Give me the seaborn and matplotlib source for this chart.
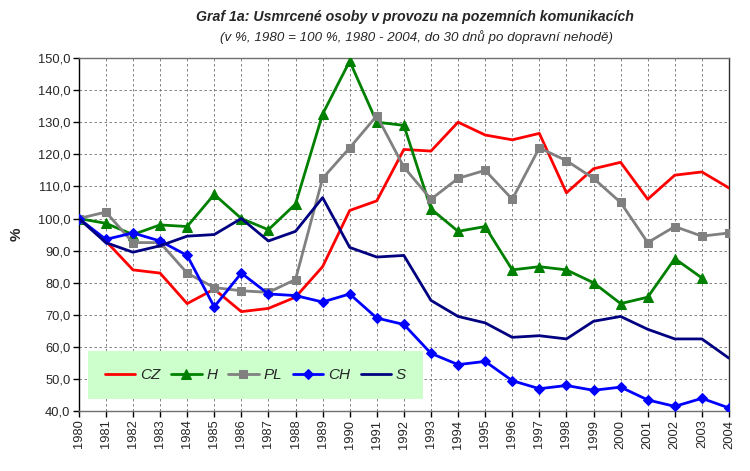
import numpy as np
import pandas as pd
import matplotlib
matplotlib.use("Agg")
import matplotlib.pyplot as plt
import seaborn as sns

years = list(range(1980, 2005))
cz = [100, 93, 84, 83, 73.5, 78, 71, 72, 75.5, 85, 102.5, 105.5, 121.5, 121, 130, 126, 124.5, 126.5, 108, 115.5, 117.5, 106, 113.5, 114.5, 109.5]
h = [100, 98.5, 95, 98, 97.5, 107.5, 100, 96.5, 104.5, 132.5, 149, 130, 129, 103, 96, 97.5, 84, 85, 84, 80, 73.5, 75.5, 87.5, 81.5, np.nan]
pl = [100, 102, 92.5, 92.5, 83, 78.5, 77.5, 77, 81, 112.5, 122, 132, 116, 106, 112.5, 115, 106, 122, 118, 112.5, 105, 92.5, 97.5, 94.5, 95.5]
ch = [100, 93.5, 95.5, 93, 88.5, 72.5, 83, 76.5, 76, 74, 76.5, 69, 67, 58, 54.5, 55.5, 49.5, 47, 48, 46.5, 47.5, 43.5, 41.5, 44, 41]
s = [100, 92.5, 89.5, 91.5, 94.5, 95, 100, 93, 96, 106.5, 91, 88, 88.5, 74.5, 69.5, 67.5, 63, 63.5, 62.5, 68, 69.5, 65.5, 62.5, 62.5, 56.5]

series_names = ["CZ", "H", "PL", "CH", "S"]
series_vals = [cz, h, pl, ch, s]

sns.set_theme(style="white")
plt.rcParams['font.family'] = ['Liberation Sans', 'DejaVu Sans']

fig = plt.figure(figsize=(7.5, 4.71), dpi=100)
ax = fig.add_axes([0.105, 0.127, 0.867, 0.750])

styles = {
    "CZ": dict(color="#FF0000", marker=None, ms=0),
    "H": dict(color="#008000", marker="^", ms=6.5),
    "PL": dict(color="#808080", marker="s", ms=6),
    "CH": dict(color="#0000FF", marker="D", ms=5.5),
    "S": dict(color="#000080", marker=None, ms=0),
}

for name, vals in zip(series_names, series_vals):
    df = pd.DataFrame({"year": years, "val": vals}).dropna()
    st = styles[name]
    sns.lineplot(data=df, x="year", y="val", ax=ax, color=st["color"],
                 marker=st["marker"], markersize=st["ms"], markeredgecolor=st["color"],
                 linewidth=2, label=name, zorder=3)

ax.set_xlim(1980, 2004)
ax.set_ylim(40, 150)
ax.set_xticks(years)
ax.set_xticklabels([str(y) for y in years], rotation=90, fontsize=9.3)
yt = np.arange(40, 151, 10)
ax.set_yticks(yt)
ax.set_yticklabels([f"{v:.1f}".replace(".", ",") for v in yt], fontsize=9.3)
ax.tick_params(axis='both', direction='out', length=4, width=1, color='black', bottom=True, left=True, pad=2)
ax.grid(True, linestyle=(0, (3, 3)), color='#707070', linewidth=0.6)
ax.set_axisbelow(True)
ax.set_xlabel("")
ax.set_ylabel("%", fontsize=11, fontweight='bold', labelpad=10)
for sp in ax.spines.values():
    sp.set_color('#707070')
    sp.set_linewidth(1)
ax.spines['left'].set_color('black')
ax.spines['right'].set_color('#303030')

leg = ax.legend(loc='center', bbox_to_anchor=(0.014, 0.026, 0.515, 0.152), mode='expand',
                ncol=5, frameon=True, fontsize=11, handlelength=2.0, columnspacing=1.0,
                handletextpad=0.3, borderpad=1.1, borderaxespad=0)
frame = leg.get_frame()
frame.set_facecolor('#CCFFCC')
frame.set_edgecolor('none')
frame.set_alpha(1)
frame.set_boxstyle('square', pad=0)
for t in leg.get_texts():
    t.set_fontstyle('italic')

fig.text(0.553, 0.963, "Graf 1a: Usmrcené osoby v provozu na pozemních komunikacích",
         ha='center', va='center', fontsize=10.2, fontweight='bold', fontstyle='italic')
fig.text(0.555, 0.921, "(v %, 1980 = 100 %, 1980 - 2004, do 30 dnů po dopravní nehodě)",
         ha='center', va='center', fontsize=9.6, fontstyle='italic')

fig.savefig("out.png", dpi=100)
